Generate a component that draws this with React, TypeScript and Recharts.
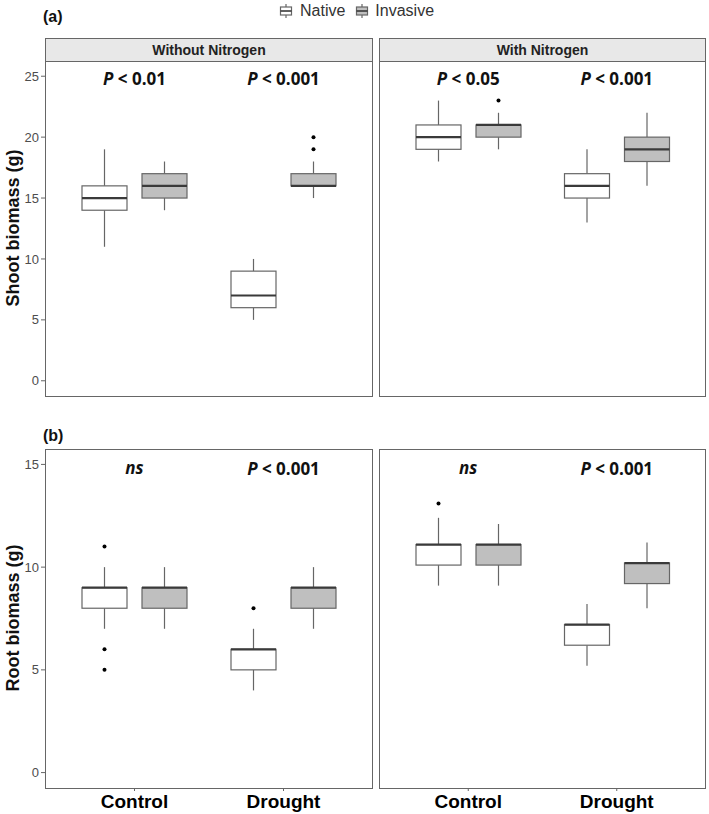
import React from 'react';
import { BarChart, Bar, XAxis, YAxis, ReferenceDot } from 'recharts';

const categories = ['Control', 'Drought'];

// five-number summaries per category: [min, q1, median, q3, max]
const shootNoNNative = [[11, 14, 15, 16, 19], [5, 6, 7, 9, 10]];
const shootNoNInvasive = [[14, 15, 16, 17, 18], [15, 16, 16, 17, 18]];
const shootNoNNativeOut = [[], []];
const shootNoNInvasiveOut = [[], [19, 20]];
const shootNoNLabels = ['P < 0.01', 'P < 0.001'];

const shootNNative = [[18, 19, 20, 21, 23], [13, 15, 16, 17, 19]];
const shootNInvasive = [[19, 20, 21, 21, 22], [16, 18, 19, 20, 22]];
const shootNNativeOut = [[], []];
const shootNInvasiveOut = [[23], []];
const shootNLabels = ['P < 0.05', 'P < 0.001'];

const rootNoNNative = [[7, 8, 9, 9, 10], [4, 5, 6, 6, 7]];
const rootNoNInvasive = [[7, 8, 9, 9, 10], [7, 8, 9, 9, 10]];
const rootNoNNativeOut = [[11, 6, 5], [8]];
const rootNoNInvasiveOut = [[], []];
const rootNoNLabels = ['ns', 'P < 0.001'];

const rootNNative = [[9.1, 10.1, 11.1, 11.1, 12.4], [5.2, 6.2, 7.2, 7.2, 8.2]];
const rootNInvasive = [[9.1, 10.1, 11.1, 11.1, 12.1], [8.0, 9.2, 10.2, 10.2, 11.2]];
const rootNNativeOut = [[13.1], []];
const rootNInvasiveOut = [[], []];
const rootNLabels = ['ns', 'P < 0.001'];

const shootTicks = [0, 5, 10, 15, 20, 25];
const rootTicks = [0, 5, 10, 15];
const shootDomain = [-1.25, 26.25];
const rootDomain = [-0.75, 15.75];

const FONT = '"Liberation Sans", Arial, sans-serif';
const LINE = '#666';
const INVASIVE_FILL = '#bfbfbf';

function makeRows(nat: number[][], inv: number[][], natOut: number[][], invOut: number[][], labels: string[]) {
  return categories.map((cat, i) => ({
    cat, nat: nat[i], inv: inv[i], natOut: natOut[i], invOut: invOut[i], label: labels[i],
  }));
}

// boxplot drawn inside the bar that spans min..max
const boxShape = (key: 'nat' | 'inv', outKey: 'natOut' | 'invOut', fill: string) => (props: any) => {
  const { x, y, width, height, payload } = props;
  const [lo, q1, med, q3, hi] = payload[key];
  const k = height / (hi - lo);
  const py = (v: number) => y + (hi - v) * k;
  const cx = x + width / 2;
  return (
    <g>
      <line x1={cx} x2={cx} y1={py(hi)} y2={py(q3)} stroke={LINE} strokeWidth={1.2} />
      <line x1={cx} x2={cx} y1={py(q1)} y2={py(lo)} stroke={LINE} strokeWidth={1.2} />
      <rect x={x} y={py(q3)} width={width} height={py(q1) - py(q3)} fill={fill} stroke={LINE} strokeWidth={1.2} />
      <line x1={x} x2={x + width} y1={py(med)} y2={py(med)} stroke="#3a3a3a" strokeWidth={2.2} />
      {payload[outKey].map((v: number, i: number) => (
        <circle key={i} cx={cx} cy={py(v)} r={2} fill="#000" />
      ))}
    </g>
  );
};

const annot = (text: string) => (p: any) => {
  if (text === 'ns') {
    return (
      <text x={p.cx} y={p.cy + 5} textAnchor="middle" fontFamily='"Open Sans", sans-serif' fontSize={17} fontWeight={700} fontStyle="italic" fill="#111">ns</text>
    );
  }
  return (
    <text x={p.cx} y={p.cy + 6} textAnchor="middle" fontFamily='"Open Sans", sans-serif' fontSize={17} fontWeight={700} fill="#111">
      <tspan fontStyle="italic">P</tspan>
      {text.slice(1)}
    </text>
  );
};

function Panel({ rows, domain, ticks, showY, showXLabels, width, height, xAxisHeight, labelY }: any) {
  return (
    <BarChart width={width} height={height} data={rows} margin={{ top: 0, right: 0, bottom: 0, left: 0 }} barSize={45} barGap={15}>
      <XAxis
        dataKey="cat"
        padding={{ left: 15, right: 15 }}
        axisLine={false}
        tickLine={{ stroke: LINE }}
        tickSize={3}
        tickMargin={4}
        height={xAxisHeight}
        interval={0}
        tick={showXLabels ? { fontSize: 19, fontWeight: 700, fill: '#000', fontFamily: FONT } : false}
      />
      <YAxis
        type="number"
        domain={domain}
        ticks={ticks}
        allowDataOverflow
        hide={!showY}
        width={45}
        axisLine={false}
        tickLine={{ stroke: LINE }}
        tickSize={4}
        tickMargin={2}
        tick={{ fontSize: 13, fill: '#4d4d4d', fontFamily: FONT }}
      />
      <Bar dataKey={(d: any) => [d.nat[0], d.nat[4]]} shape={boxShape('nat', 'natOut', '#fff')} isAnimationActive={false} />
      <Bar dataKey={(d: any) => [d.inv[0], d.inv[4]]} shape={boxShape('inv', 'invOut', INVASIVE_FILL)} isAnimationActive={false} />
      {rows.map((r: any) => (
        <ReferenceDot key={r.cat} x={r.cat} y={labelY} r={0} shape={annot(r.label)} />
      ))}
    </BarChart>
  );
}

const abs = (left: number, top: number, extra: any = {}) => ({ position: 'absolute' as const, left, top, ...extra });

function LegendKey({ fill }: { fill: string }) {
  return (
    <svg width={14} height={16} style={{ display: 'block' }}>
      <line x1={7} x2={7} y1={1} y2={15} stroke={LINE} strokeWidth={1.2} />
      <rect x={1.5} y={4} width={11} height={8} fill={fill} stroke={LINE} strokeWidth={1.2} />
      <line x1={1.5} x2={12.5} y1={8} y2={8} stroke="#3a3a3a" strokeWidth={1.6} />
    </svg>
  );
}

export default function App() {
  const aLeft = makeRows(shootNoNNative, shootNoNInvasive, shootNoNNativeOut, shootNoNInvasiveOut, shootNoNLabels);
  const aRight = makeRows(shootNNative, shootNInvasive, shootNNativeOut, shootNInvasiveOut, shootNLabels);
  const bLeft = makeRows(rootNoNNative, rootNoNInvasive, rootNoNNativeOut, rootNoNInvasiveOut, rootNoNLabels);
  const bRight = makeRows(rootNNative, rootNInvasive, rootNNativeOut, rootNInvasiveOut, rootNLabels);

  const border = { border: `1px solid ${LINE}`, boxSizing: 'border-box' as const, pointerEvents: 'none' as const };
  const strip = {
    ...border, background: '#e8e8e8', display: 'flex', alignItems: 'center', justifyContent: 'center',
    fontFamily: FONT, fontWeight: 700, fontSize: 14, color: '#222',
  };
  const yTitle = {
    fontFamily: FONT, fontWeight: 700, fontSize: 18, color: '#111', whiteSpace: 'nowrap' as const,
    transform: 'translate(-50%, -50%) rotate(-90deg)',
  };

  return (
    <div style={{ position: 'absolute', left: 0, top: 0, width: 709, height: 814, background: '#fff', fontFamily: FONT }}>
      {/* legend */}
      <div style={abs(279, 2, { display: 'flex', alignItems: 'center', fontSize: 16, color: '#333' })}>
        <LegendKey fill="#fff" />
        <span style={{ marginLeft: 7, marginRight: 10 }}>Native</span>
        <LegendKey fill={INVASIVE_FILL} />
        <span style={{ marginLeft: 6 }}>Invasive</span>
      </div>

      <div style={abs(43, 8, { fontWeight: 700, fontSize: 16, color: '#111' })}>(a)</div>
      <div style={abs(43, 427, { fontWeight: 700, fontSize: 16, color: '#111' })}>(b)</div>

      <div style={abs(13, 228, yTitle)}>Shoot biomass (g)</div>
      <div style={abs(13, 618, yTitle)}>Root biomass (g)</div>

      {/* strips */}
      <div style={abs(45, 38, { ...strip, width: 328, height: 24 })}>Without Nitrogen</div>
      <div style={abs(379, 38, { ...strip, width: 327, height: 24 })}>With Nitrogen</div>

      {/* row a */}
      <div style={abs(0, 61)}>
        <Panel rows={aLeft} domain={shootDomain} ticks={shootTicks} showY showXLabels={false} width={373} height={345} xAxisHeight={10} labelY={24.75} />
      </div>
      <div style={abs(379, 61)}>
        <Panel rows={aRight} domain={shootDomain} ticks={shootTicks} showY={false} showXLabels={false} width={327} height={345} xAxisHeight={10} labelY={24.75} />
      </div>
      <div style={abs(45, 61, { ...border, width: 328, height: 336 })} />
      <div style={abs(379, 61, { ...border, width: 327, height: 336 })} />

      {/* row b */}
      <div style={abs(0, 449)}>
        <Panel rows={bLeft} domain={rootDomain} ticks={rootTicks} showY showXLabels width={373} height={365} xAxisHeight={26} labelY={14.8} />
      </div>
      <div style={abs(379, 449)}>
        <Panel rows={bRight} domain={rootDomain} ticks={rootTicks} showY={false} showXLabels width={327} height={365} xAxisHeight={26} labelY={14.8} />
      </div>
      <div style={abs(45, 449, { ...border, width: 328, height: 340 })} />
      <div style={abs(379, 449, { ...border, width: 327, height: 340 })} />
    </div>
  );
}
